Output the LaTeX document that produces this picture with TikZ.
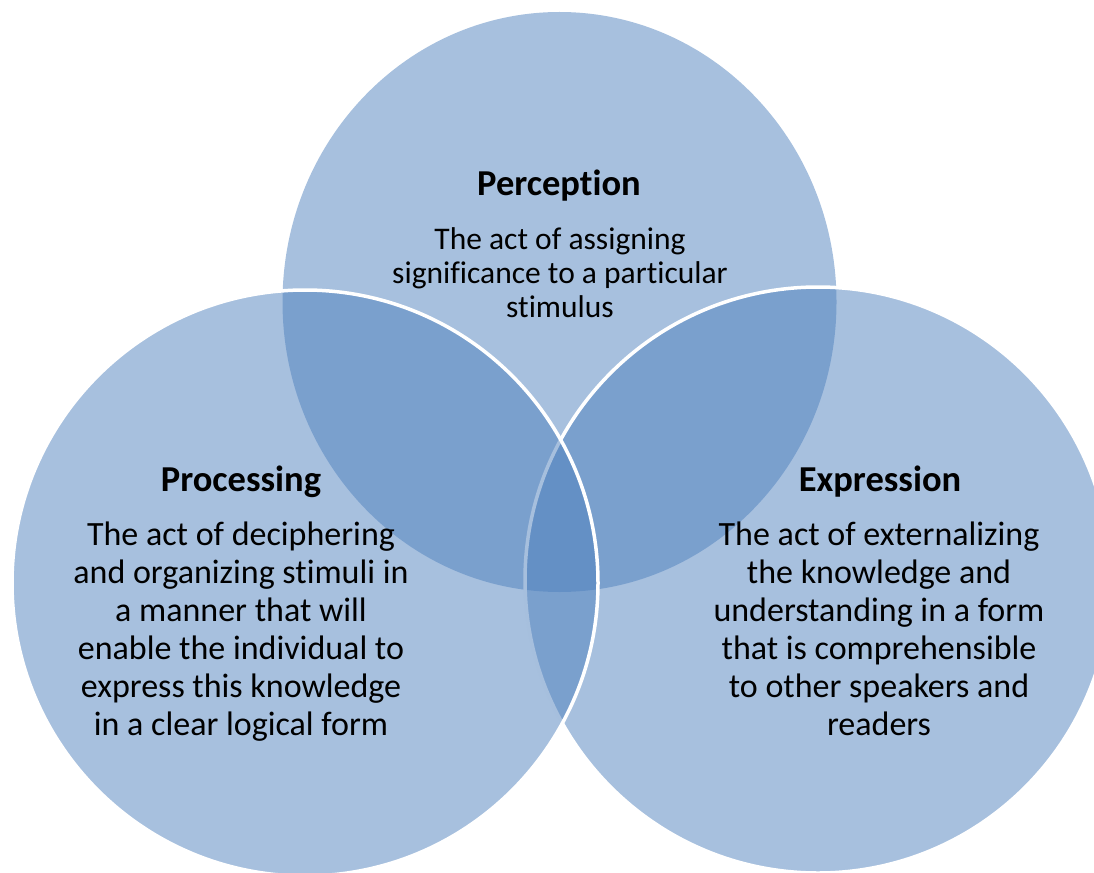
\documentclass[tikz,border=0pt]{standalone}
\usepackage{fontspec}
\setmainfont{Carlito}[Ligatures={NoCommon}]
\usepackage{xcolor}
\usepackage{tikz}

\definecolor{vennblue}{HTML}{4F81BD}

\begin{document}
\begin{tikzpicture}[x=1pt, y=-1pt,
  venn/.style={fill=vennblue, fill opacity=0.5, draw=white, line width=3.5pt},
  title/.style={font=\bfseries\fontsize{36.5}{40}\selectfont, anchor=base, inner sep=0pt},
  desc/.style={font=\fontsize{34}{38}\selectfont, align=center, anchor=base, inner sep=0pt}]

\useasboundingbox (0,0) rectangle (1094,872);

% top set first, then right, then left on top
\fill[vennblue, fill opacity=0.5] (559.5,302) ellipse [x radius=277, y radius=290];
\path[venn] (818,580) circle [radius=293];
\path[venn] (305,583) circle [radius=293];

% base of a wrapped text is its last line
\node[title] (perception) at (559,195) {Perception};
\node[desc, font=\fontsize{31.5}{34}\selectfont] (perceptiontext) at (560,317)
  {The act of assigning\\ significance to a particular\\ stimulus};

\node[title] (processing) at (241,491) {Processing};
\node[desc] (processingtext) at (241,735)
  {The act of deciphering\\ and organizing stimuli in\\ a manner that will\\
   enable the individual to\\ express this knowledge\\ in a clear logical form};

\node[title] (expression) at (880,491) {Expression};
\node[desc] (expressiontext) at (879,735)
  {The act of externalizing\\ the knowledge and\\ understanding in a form\\
   that is comprehensible\\ to other speakers and\\ readers};

\end{tikzpicture}
\end{document}
